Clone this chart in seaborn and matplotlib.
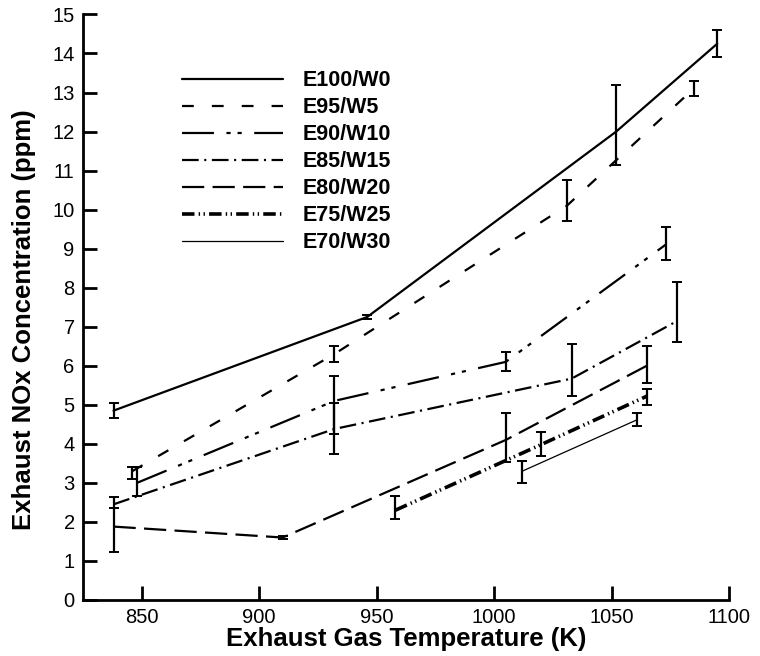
import numpy as np
import pandas as pd
import matplotlib
matplotlib.use("Agg")
import matplotlib.pyplot as plt
import seaborn as sns

# data
labels = ["E100/W0", "E95/W5", "E90/W10", "E85/W15", "E80/W20", "E75/W25", "E70/W30"]

e100_t = [838, 946, 1052, 1095]
e100_y = [4.85, 7.25, 12.0, 14.25]
e100_lo = [4.65, 7.2, 11.15, 13.9]
e100_hi = [5.05, 7.3, 13.2, 14.6]

e95_t = [846, 932, 1031, 1085]
e95_y = [3.3, 6.3, 10.1, 13.1]
e95_lo = [3.1, 6.1, 9.7, 12.9]
e95_hi = [3.4, 6.5, 10.75, 13.3]

e90_t = [848, 932, 1005, 1073]
e90_y = [3.0, 5.1, 6.1, 9.1]
e90_lo = [2.66, 4.25, 5.86, 8.72]
e90_hi = [3.4, 5.73, 6.34, 9.55]

e85_t = [838, 932, 1033, 1078]
e85_y = [2.45, 4.38, 5.67, 7.15]
e85_lo = [2.35, 3.73, 5.22, 6.6]
e85_hi = [2.63, 5.04, 6.57, 8.15]

e80_t = [838, 910, 1005, 1065]
e80_y = [1.88, 1.6, 4.1, 6.0]
e80_lo = [1.23, 1.55, 3.53, 5.55]
e80_hi = [2.35, 1.65, 4.8, 6.5]

e75_t = [958, 1020, 1065]
e75_y = [2.3, 3.98, 5.22]
e75_lo = [2.08, 3.68, 5.0]
e75_hi = [2.66, 4.3, 5.4]

e70_t = [1012, 1061]
e70_y = [3.3, 4.62]
e70_lo = [3.0, 4.45]
e70_hi = [3.55, 4.78]

series = [
    (e100_t, e100_y, e100_lo, e100_hi),
    (e95_t, e95_y, e95_lo, e95_hi),
    (e90_t, e90_y, e90_lo, e90_hi),
    (e85_t, e85_y, e85_lo, e85_hi),
    (e80_t, e80_y, e80_lo, e80_hi),
    (e75_t, e75_y, e75_lo, e75_hi),
    (e70_t, e70_y, e70_lo, e70_hi),
]

# line styles (dash patterns in points, not scaled by width)
styles = [
    dict(linestyle="-", linewidth=1.6),
    dict(linestyle=(0, (8.5, 13)), linewidth=1.6),
    dict(linestyle=(0, (23, 9, 3, 5, 3, 9)), linewidth=1.6),
    dict(linestyle=(0, (12, 4, 1.5, 4)), linewidth=1.6),
    dict(linestyle=(0, (16, 6)), linewidth=1.6),
    dict(linestyle=(0, (9, 3, 1, 2.5, 1, 3)), linewidth=2.6),
    dict(linestyle="-", linewidth=0.9),
]

sns.set_style("ticks", {"xtick.direction": "in", "ytick.direction": "in",
                        "text.color": "black", "axes.labelcolor": "black",
                        "xtick.color": "black", "ytick.color": "black",
                        "axes.edgecolor": "black"})
plt.rcParams["font.family"] = ["Liberation Sans", "DejaVu Sans"]
plt.rcParams["lines.scale_dashes"] = False

fig = plt.figure(figsize=(7.6, 6.56), dpi=100)
ax = fig.add_axes([0.1092, 0.0854, 0.8500, 0.8926])

for (t, y, lo, hi), lab, st in zip(series, labels, styles):
    df = pd.DataFrame({"T": t, "NOx": y})
    sns.lineplot(data=df, x="T", y="NOx", ax=ax, color="black", label=lab,
                 sort=False, estimator=None, **st)
    yerr = [np.array(y) - np.array(lo), np.array(hi) - np.array(y)]
    ax.errorbar(t, y, yerr=yerr, fmt="none", ecolor="black", elinewidth=1.6,
                capsize=3.3, capthick=1.4)

ax.set_xlim(825, 1100)
ax.set_ylim(0, 15)
ax.set_xticks([850, 900, 950, 1000, 1050, 1100])
ax.set_yticks(range(0, 16))
ax.tick_params(direction="in", length=10, width=2, labelsize=14.5, pad=6,
               colors="black")
for side in ["top", "right"]:
    ax.spines[side].set_visible(False)
for side in ["left", "bottom"]:
    ax.spines[side].set_linewidth(2)
    ax.spines[side].set_color("black")

ax.set_xlabel("Exhaust Gas Temperature (K)", fontsize=18.5, fontweight="bold",
              labelpad=0, color="black")
ax.set_ylabel("Exhaust NOx Concentration (ppm)", fontsize=18.5, fontweight="bold",
              color="black")
ax.yaxis.set_label_coords(-0.072, 0.478)

leg = ax.legend(loc="upper left", bbox_to_anchor=(0.1535, 0.905), frameon=False,
                borderpad=0, borderaxespad=0, handlelength=4.7, handletextpad=0.88,
                labelspacing=0.28, prop={"weight": "bold", "size": 15.5})
for txt in leg.get_texts():
    txt.set_color("black")

fig.savefig("out.png", dpi=100)
